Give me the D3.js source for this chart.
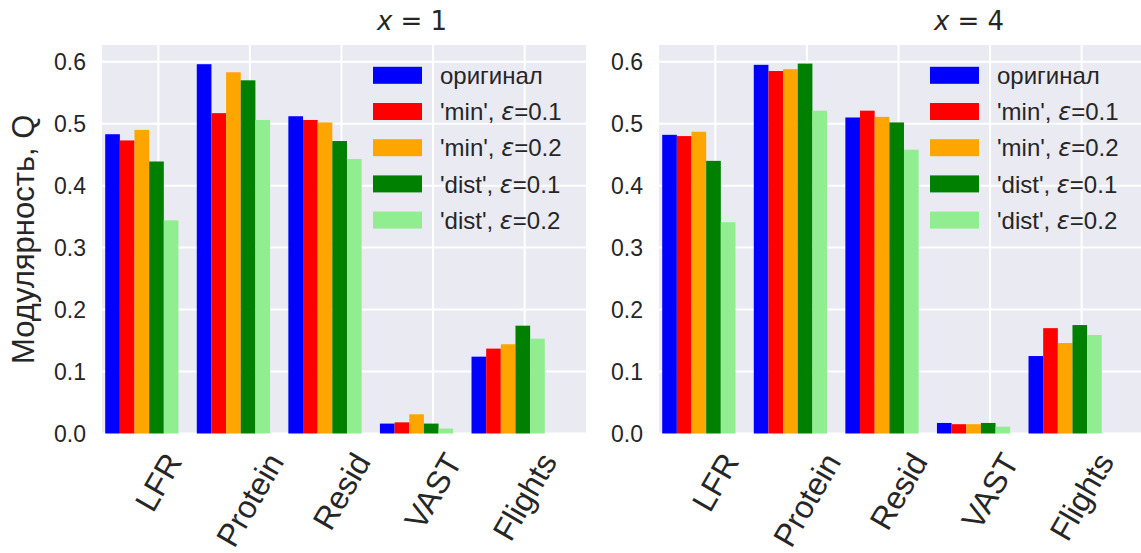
<!DOCTYPE html>
<html>
<head>
<meta charset="utf-8">
<script src="https://cdnjs.cloudflare.com/ajax/libs/d3/7.8.5/d3.min.js"></script>
<style>
    body { margin: 0; background: #fff; }
    svg text { fill: #262626; font-family: "Liberation Sans", Arial, sans-serif; }
    .math { font-family: "DejaVu Sans", sans-serif; }
</style>
</head>
<body>
<svg width="1141" height="553"></svg>
<script>

    // data
    var categories = ["LFR", "Protein", "Resid", "VAST", "Flights"];
    var seriesLabels = ["оригинал", "'min', |=0.1", "'min', |=0.2", "'dist', |=0.1", "'dist', |=0.2"];
    var colors = ["#0000ff", "#ff0000", "#ffa500", "#008000", "#90ee90"];
    var yTicks = [0.0, 0.1, 0.2, 0.3, 0.4, 0.5, 0.6];
    var titles = ["1", "4"];

    // rows = series, columns = categories
    var valuesX1 = [
        [0.483, 0.596, 0.512, 0.016, 0.124],
        [0.473, 0.517, 0.506, 0.018, 0.137],
        [0.490, 0.583, 0.502, 0.031, 0.144],
        [0.439, 0.570, 0.472, 0.016, 0.174],
        [0.344, 0.506, 0.443, 0.008, 0.153]
    ];
    var valuesX4 = [
        [0.482, 0.595, 0.510, 0.017, 0.125],
        [0.480, 0.585, 0.521, 0.015, 0.170],
        [0.487, 0.588, 0.511, 0.015, 0.146],
        [0.440, 0.597, 0.502, 0.017, 0.175],
        [0.341, 0.521, 0.458, 0.011, 0.159]
    ];

    var svg = d3.select("svg"),
        top_ = 45, bottom_ = 433.5, panelW = 484,
        barW = 0.16;

    var y = d3.scaleLinear().domain([0, 0.627]).range([bottom_, top_]);

    function drawPanel(left, values, title) {
        var x = d3.scaleLinear().domain([-0.115, 5.17]).range([left, left + panelW]);
        var g = svg.append("g");

        g.append("rect")
            .attr("x", left).attr("y", top_)
            .attr("width", panelW).attr("height", bottom_ - top_)
            .attr("fill", "#eaeaf2");

        // grid
        g.selectAll(".hgrid").data(yTicks).enter().append("line")
            .attr("x1", left).attr("x2", left + panelW)
            .attr("y1", d => y(d)).attr("y2", d => y(d))
            .attr("stroke", "#fff").attr("stroke-width", 2);
        g.selectAll(".vgrid").data(categories).enter().append("line")
            .attr("x1", (d, i) => x(i + 0.5)).attr("x2", (d, i) => x(i + 0.5))
            .attr("y1", top_).attr("y2", bottom_)
            .attr("stroke", "#fff").attr("stroke-width", 2);

        // bars
        values.forEach(function (row, k) {
            g.selectAll(".b" + k).data(row).enter().append("rect")
                .attr("x", (d, i) => x(i + k * barW - barW / 2))
                .attr("width", x(barW) - x(0))
                .attr("y", d => y(d))
                .attr("height", d => y(0) - y(d))
                .attr("fill", colors[k]);
        });

        // y tick labels
        g.selectAll(".ytl").data(yTicks).enter().append("text")
            .attr("x", left - 16).attr("y", d => y(d))
            .attr("dy", "0.36em")
            .attr("text-anchor", "end")
            .attr("font-size", "23px")
            .text(d => d.toFixed(1));

        // x tick labels, rotated 60 deg, bbox centred on tick
        categories.forEach(function (c, i) {
            var tg = g.append("g").attr("transform", "translate(" + x(i + 0.5) + ",0)");
            var t = tg.append("text")
                .attr("text-anchor", "middle")
                .attr("dy", "0.35em")
                .attr("font-size", "32px")
                .attr("transform", "rotate(-60)")
                .text(c);
            var bb = t.node().getBoundingClientRect();
            tg.attr("transform", "translate(" + x(i + 0.5) + "," + (447 - bb.top) + ")");
        });

        // title
        var tt = g.append("text").attr("class", "math")
            .attr("x", left + panelW / 2 + 68).attr("y", 30)
            .attr("text-anchor", "middle")
            .attr("font-size", "26px");
        tt.append("tspan").attr("font-style", "italic").text("x");
        tt.append("tspan").text(" = " + title);

        // legend
        seriesLabels.forEach(function (lab, k) {
            var cy = 75.3 + k * 36.2;
            g.append("rect")
                .attr("x", left + panelW - 213).attr("y", cy - 8.5)
                .attr("width", 49).attr("height", 17)
                .attr("fill", colors[k]);
            var t = g.append("text")
                .attr("x", left + panelW - 146).attr("y", cy)
                .attr("dy", "0.36em")
                .attr("font-size", "24px");
            var parts = lab.split("|");
            t.append("tspan").text(parts[0]);
            if (parts.length > 1) {
                t.append("tspan").attr("class", "math").attr("font-style", "italic").text("ε");
                t.append("tspan").text(parts[1]);
            }
        });
    }

    drawPanel(102, valuesX1, titles[0]);
    drawPanel(659, valuesX4, titles[1]);

    svg.append("text")
        .attr("transform", "translate(34," + ((top_ + bottom_) / 2) + ") rotate(-90)")
        .attr("text-anchor", "middle")
        .attr("font-size", "31px")
        .text("Модулярность, Q");

</script>
</body>
</html>
